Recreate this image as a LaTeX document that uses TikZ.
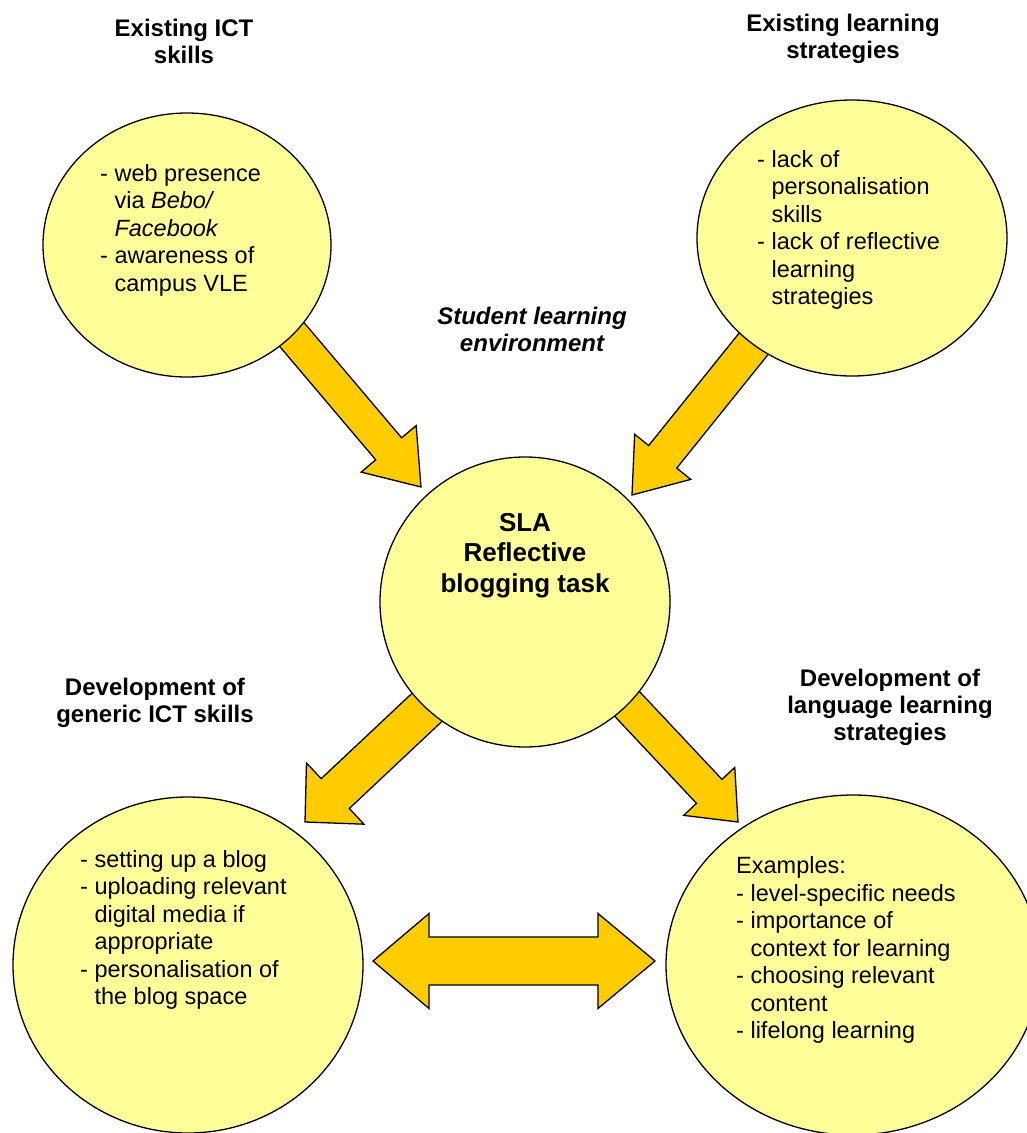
\documentclass[tikz,border=0pt]{standalone}
\usepackage{fontspec}
\setmainfont{Liberation Sans}
\usetikzlibrary{calc,shapes.geometric}
\definecolor{Bubble}{HTML}{FFFF99}
\definecolor{Amber}{HTML}{FFCC00}
\newcommand{\ind}{\hphantom{-\ }}
% block arrow: start, tip, half shaft, half head, head length
\newcommand{\blockarrow}[5]{%
  \coordinate (hb) at ($(#2)!#5!(#1)$);
  \draw[fat] ($(#1)!#3!90:(#2)$) -- ($(hb)!#3!90:(#2)$) -- ($(hb)!#4!90:(#2)$)
    -- (#2) -- ($(hb)!#4!-90:(#2)$) -- ($(hb)!#3!-90:(#2)$)
    -- ($(#1)!#3!-90:(#2)$) -- cycle;}

\begin{document}
\begin{tikzpicture}[x=1pt,y=-1pt,
  fat/.style={draw=black,line width=1.3pt,fill=Amber,line join=miter},
  bubble/.style={ellipse,draw=black,line width=1.3pt,fill=Bubble,inner sep=0pt},
  head/.style={align=center,font=\bfseries\fontsize{24}{27}\selectfont,inner sep=0pt},
  items/.style={align=left,anchor=west,font=\fontsize{23.5}{27.5}\selectfont,inner sep=0pt}]
  \useasboundingbox (0,0) rectangle (1027,1133);
  \clip (0,0) rectangle (1027,1133);
  % arrow ends
  \coordinate (A) at (255,291);  \coordinate (B) at (421,487);
  \coordinate (C) at (784,306);  \coordinate (D) at (632,495);
  \coordinate (E) at (455,681);  \coordinate (F) at (305,822);
  \coordinate (G) at (599,674);  \coordinate (H) at (738,822);
  \coordinate (L) at (373,961);  \coordinate (R) at (655,961);
  \blockarrow{A}{B}{17pt}{36pt}{50pt}
  \blockarrow{C}{D}{18pt}{36pt}{49pt}
  \blockarrow{E}{F}{20.5pt}{42pt}{41.5pt}
  \blockarrow{G}{H}{17.5pt}{35pt}{42pt}
  \draw[fat] (L) -- ++(56,-47.5) -- ++(0,23.5) -- ($(R)+(-57,-24)$)
    -- ++(0,-23.5) -- (R) -- ++(-57,47.5) -- ++(0,-23.5)
    -- ($(L)+(56,24)$) -- ++(0,23.5) -- cycle;
  % circles
  \node[bubble,minimum width=288pt,minimum height=264pt] (ict) at (187,245) {};
  \node[bubble,minimum width=310pt,minimum height=276pt] (strat) at (852,238) {};
  \node[bubble,minimum width=290pt,minimum height=290pt] (task) at (525,602) {};
  \node[bubble,minimum width=350pt,minimum height=336pt] (gen) at (188,965) {};
  \node[bubble,minimum width=374pt,minimum height=340pt] (lang) at (853,965) {};
  % headings
  \node[head] (ictt) at (184,41) {Existing ICT\\skills};
  \node[head] (stratt) at (843,38.5) {Existing learning\\strategies};
  \node[head,font=\bfseries\itshape\fontsize{24}{27}\selectfont] (env) at (532,329)
    {Student learning\\environment};
  \node[head] (gent) at (155,702.5) {Development of\\generic ICT skills};
  \node[head] (langt) at (890,707) {Development of\\language learning\\strategies};
  \node[head,font=\bfseries\fontsize{26}{30.5}\selectfont] (taskt) at (525,555.5)
    {SLA\\Reflective\\blogging task};
  % lists
  \node[items] (icti) at (100,230) {- web presence\\\ind via \textit{Bebo/}\\
    \ind\textit{Facebook}\\- awareness of\\\ind campus VLE};
  \node[items] (strati) at (757,230) {- lack of\\\ind personalisation\\\ind skills\\
    - lack of reflective\\\ind learning\\\ind strategies};
  \node[items] (geni) at (80,930) {- setting up a blog\\- uploading relevant\\
    \ind digital media if\\\ind appropriate\\- personalisation of\\\ind the blog space};
  \node[items] (langi) at (736,950) {Examples:\\- level-specific needs\\- importance of\\
    \ind context for learning\\- choosing relevant\\\ind content\\- lifelong learning};
\end{tikzpicture}
\end{document}
